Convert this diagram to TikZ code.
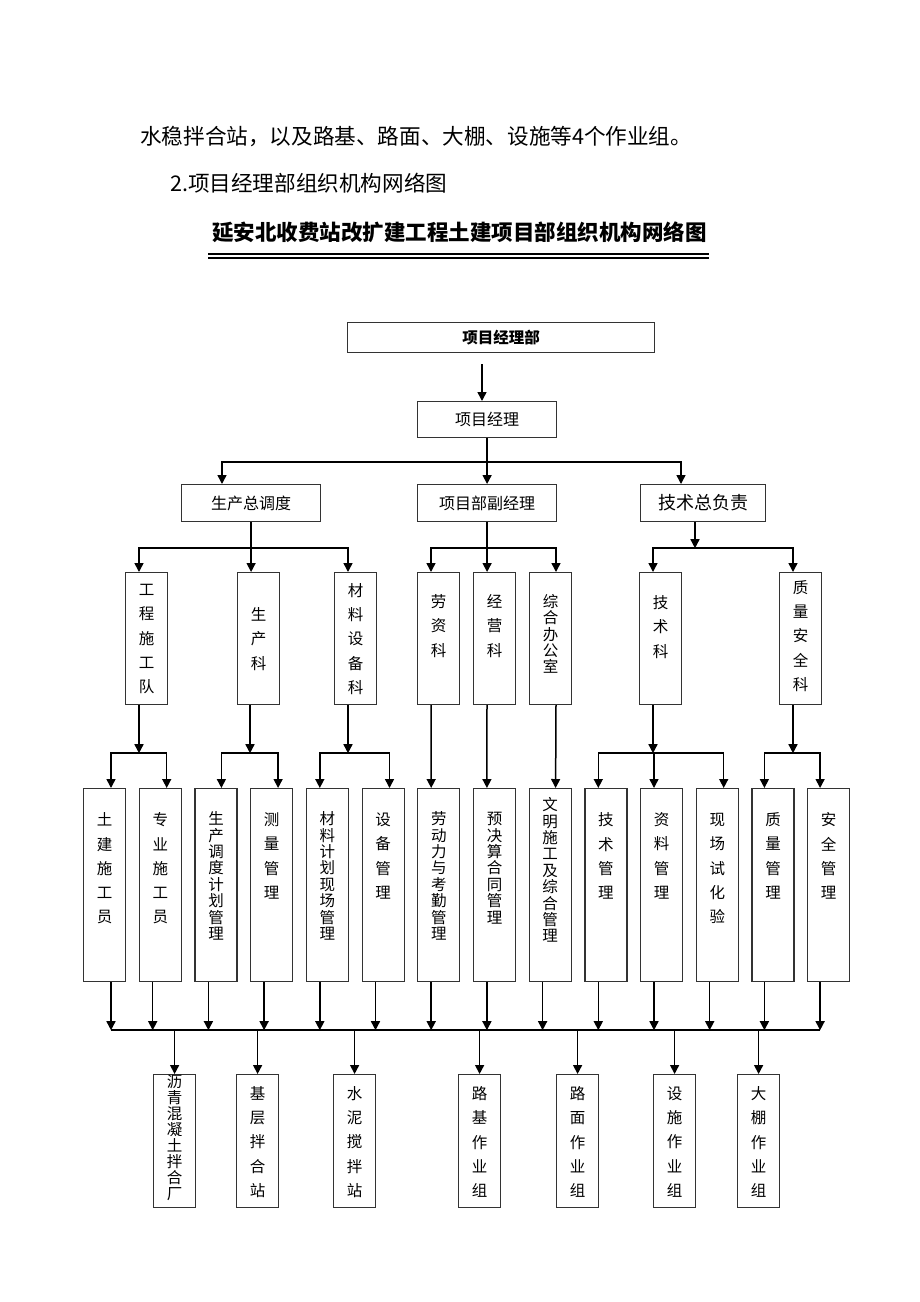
\documentclass[tikz,border=0pt]{standalone}
\usepackage{fontspec}
\setmainfont{Noto Sans CJK SC}
\usetikzlibrary{arrows.meta}

\tikzset{
  hbox/.style={draw=black!80, line width=1.2pt, inner sep=0pt, anchor=north west, font=\fontsize{16}{18}\selectfont},
  vbox/.style={draw=black!80, line width=1.2pt, inner sep=0pt, anchor=north west, minimum width=42pt},
  vtxt/.style={align=center, inner sep=0pt, font=\fontsize{15.5}{24.3}\selectfont},
  vtxtt/.style={align=center, inner sep=0pt, font=\fontsize{15.5}{16.4}\selectfont},
  arr/.style={line width=1.5pt, -{Triangle[length=9pt,width=9pt]}},
  ln/.style={line width=1.5pt},
}

\begin{document}
\begin{tikzpicture}[x=1pt,y=1pt]
  \useasboundingbox (0,0) rectangle (920,-1302);

  % text above the chart
  \node[anchor=west, inner sep=0pt, font=\fontsize{21.6}{24}\selectfont] (intro) at (140,-137) {水稳拌合站，以及路基、路面、大棚、设施等4个作业组。};
  \node[anchor=west, inner sep=0pt, font=\fontsize{21.6}{24}\selectfont] (sect) at (170,-183) {2.项目经理部组织机构网络图};
  \node[inner sep=0pt, font=\fontsize{21.5}{26}\selectfont\bfseries] (title) at (459.5,-232) {延安北收费站改扩建工程土建项目部组织机构网络图};
  \draw[line width=1.5pt] (208,-254) -- (709,-254);
  \draw[line width=1.2pt] (208,-258) -- (709,-258);

  % top levels
  \node[hbox, minimum width=307pt, minimum height=30pt, font=\fontsize{15.5}{18}\selectfont\bfseries] (xmjlb) at (347,-322) {项目经理部};
  \node[hbox, minimum width=139pt, minimum height=36pt] (pm) at (417,-401) {项目经理};
  \node[hbox, minimum width=139pt, minimum height=37pt] (sczdd) at (181,-484) {生产总调度};
  \node[hbox, minimum width=139pt, minimum height=37pt] (fjl) at (417,-484) {项目部副经理};
  \node[hbox, minimum width=125pt, minimum height=37pt, font=\fontsize{18}{20}\selectfont] (jszfz) at (640,-484) {技术总负责};

  \draw[arr] ([xshift=135pt,yshift=-11pt]xmjlb.south west) -- ([xshift=65pt]pm.north west);
  \draw[arr] (pm.south) -- (fjl.north);
  \draw[arr] ([yshift=-24pt]pm.south) -| ([xshift=41pt]sczdd.north west);
  \draw[arr] ([yshift=-24pt]pm.south) -| ([xshift=41pt]jszfz.north west);

  % sections
  \node[vbox, minimum height=132pt] (gcd) at (125,-572) {};
  \node[vtxt] (gcd-t) at ([yshift=-67pt]gcd.north) {工\\程\\施\\工\\队};
  \node[vbox, minimum height=132pt] (scz) at (237,-572) {};
  \node[vtxt] (scz-t) at ([yshift=-67pt]scz.north) {生\\产\\科};
  \node[vbox, minimum height=132pt] (clsb) at (334,-572) {};
  \node[vtxt] (clsb-t) at ([yshift=-67pt]clsb.north) {材\\料\\设\\备\\科};
  \node[vbox, minimum height=132pt] (lz) at (417,-572) {};
  \node[vtxt] (lz-t) at ([yshift=-54pt]lz.north) {劳\\资\\科};
  \node[vbox, minimum height=132pt] (jy) at (473,-572) {};
  \node[vtxt] (jy-t) at ([yshift=-54pt]jy.north) {经\\营\\科};
  \node[vbox, minimum height=132pt] (zh) at (529,-572) {};
  \node[vtxtt] (zh-t) at ([yshift=-62pt]zh.north) {综\\合\\办\\公\\室};
  \node[vbox, minimum height=132pt] (js) at (639,-572) {};
  \node[vtxt] (js-t) at ([yshift=-55pt]js.north) {技\\术\\科};
  \node[vbox, minimum height=132pt] (zlaq) at (779,-572) {};
  \node[vtxt] (zlaq-t) at ([yshift=-64pt]zlaq.north) {质\\量\\安\\全\\科};

  \draw[arr] (sczdd.south) -- (sczdd.south |- scz.north);
  \draw[arr] ([yshift=-26pt]sczdd.south) -| ([xshift=14pt]gcd.north west);
  \draw[arr] ([yshift=-26pt]sczdd.south) -| ([xshift=14pt]clsb.north west);
  \draw[arr] (fjl.south) -- (fjl.south |- jy.north);
  \draw[arr] ([yshift=-26pt]fjl.south) -| ([xshift=14pt]lz.north west);
  \draw[arr] ([yshift=-26pt]fjl.south) -| ([xshift=27pt]zh.north west);
  \draw[arr] ([xshift=55pt]jszfz.south west) -- ++(0,-26);
  \draw[arr] ([xshift=55pt,yshift=-26pt]jszfz.south west) -| ([xshift=14pt]js.north west);
  \draw[arr] ([xshift=55pt,yshift=-26pt]jszfz.south west) -| ([xshift=14pt]zlaq.north west);

  % posts
  \node[vbox, minimum height=193pt] (tj) at (83,-788) {};
  \node[vtxt] (tj-t) at ([yshift=-80.5pt]tj.north) {土\\建\\施\\工\\员};
  \node[vbox, minimum height=193pt] (zy) at (138.7,-788) {};
  \node[vtxt] (zy-t) at ([yshift=-80.5pt]zy.north) {专\\业\\施\\工\\员};
  \node[vbox, minimum height=193pt] (ddjh) at (194.4,-788) {};
  \node[vtxtt] (ddjh-t) at ([yshift=-88pt]ddjh.north) {生\\产\\调\\度\\计\\划\\管\\理};
  \node[vbox, minimum height=193pt] (cl) at (250.1,-788) {};
  \node[vtxt] (cl-t) at ([yshift=-68pt]cl.north) {测\\量\\管\\理};
  \node[vbox, minimum height=193pt] (clxc) at (305.8,-788) {};
  \node[vtxtt] (clxc-t) at ([yshift=-88pt]clxc.north) {材\\料\\计\\划\\现\\场\\管\\理};
  \node[vbox, minimum height=193pt] (sb) at (361.5,-788) {};
  \node[vtxt] (sb-t) at ([yshift=-68pt]sb.north) {设\\备\\管\\理};
  \node[vbox, minimum height=193pt] (ldl) at (417.2,-788) {};
  \node[vtxtt] (ldl-t) at ([yshift=-88pt]ldl.north) {劳\\动\\力\\与\\考\\勤\\管\\理};
  \node[vbox, minimum height=193pt] (yjs) at (472.9,-788) {};
  \node[vtxtt] (yjs-t) at ([yshift=-80pt]yjs.north) {预\\决\\算\\合\\同\\管\\理};
  \node[vbox, minimum height=193pt] (wm) at (528.6,-788) {};
  \node[vtxtt] (wm-t) at ([yshift=-82pt]wm.north) {文\\明\\施\\工\\及\\综\\合\\管\\理};
  \node[vbox, minimum height=193pt] (jsgl) at (584.3,-788) {};
  \node[vtxt] (jsgl-t) at ([yshift=-68pt]jsgl.north) {技\\术\\管\\理};
  \node[vbox, minimum height=193pt] (zl) at (640,-788) {};
  \node[vtxt] (zl-t) at ([yshift=-68pt]zl.north) {资\\料\\管\\理};
  \node[vbox, minimum height=193pt] (xcsy) at (695.7,-788) {};
  \node[vtxt] (xcsy-t) at ([yshift=-80.5pt]xcsy.north) {现\\场\\试\\化\\验};
  \node[vbox, minimum height=193pt] (zlgl) at (751.4,-788) {};
  \node[vtxt] (zlgl-t) at ([yshift=-68pt]zlgl.north) {质\\量\\管\\理};
  \node[vbox, minimum height=193pt] (aqgl) at (807.1,-788) {};
  \node[vtxt] (aqgl-t) at ([yshift=-68pt]aqgl.north) {安\\全\\管\\理};

  \draw[arr] ([xshift=14pt]gcd.south west) -- ++(0,-48);
  \draw[arr] ([xshift=14pt,yshift=-48pt]gcd.south west) -| ([xshift=28pt]tj.north west);
  \draw[arr] ([xshift=14pt,yshift=-48pt]gcd.south west) -| ([xshift=28pt]zy.north west);
  \draw[arr] ([xshift=13pt]scz.south west) -- ++(0,-48);
  \draw[arr] ([xshift=13pt,yshift=-48pt]scz.south west) -| ([xshift=27pt]ddjh.north west);
  \draw[arr] ([xshift=13pt,yshift=-48pt]scz.south west) -| ([xshift=28pt]cl.north west);
  \draw[arr] ([xshift=14pt]clsb.south west) -- ++(0,-48);
  \draw[arr] ([xshift=14pt,yshift=-48pt]clsb.south west) -| ([xshift=14pt]clxc.north west);
  \draw[arr] ([xshift=14pt,yshift=-48pt]clsb.south west) -| ([xshift=28pt]sb.north west);
  \draw[arr] ([xshift=14pt]lz.south west) -- ([xshift=14pt]ldl.north west);
  \draw[arr] ([xshift=14pt]jy.south west) -- ([xshift=14pt]yjs.north west);
  \draw[arr] ([xshift=27pt]zh.south west) -- ([xshift=27pt]wm.north west);
  \draw[arr] ([xshift=14pt]js.south west) -- ++(0,-48);
  \draw[arr] ([xshift=14pt,yshift=-48pt]js.south west) -| ([xshift=14pt]jsgl.north west);
  \draw[arr] ([xshift=14pt,yshift=-48pt]js.south west) -| ([xshift=14pt]zl.north west);
  \draw[arr] ([xshift=14pt,yshift=-48pt]js.south west) -| ([xshift=28pt]xcsy.north west);
  \draw[arr] ([xshift=14pt]zlaq.south west) -- ++(0,-48);
  \draw[arr] ([xshift=14pt,yshift=-48pt]zlaq.south west) -| ([xshift=13pt]zlgl.north west);
  \draw[arr] ([xshift=14pt,yshift=-48pt]zlaq.south west) -| ([xshift=13pt]aqgl.north west);

  % collecting line
  \draw[arr] ([xshift=28pt]tj.south west) -- ++(0,-48);
  \draw[arr] ([xshift=14pt]zy.south west) -- ++(0,-48);
  \draw[arr] ([xshift=14pt]ddjh.south west) -- ++(0,-48);
  \draw[arr] ([xshift=14pt]cl.south west) -- ++(0,-48);
  \draw[arr] ([xshift=14pt]clxc.south west) -- ++(0,-48);
  \draw[arr] ([xshift=14pt]sb.south west) -- ++(0,-48);
  \draw[arr] ([xshift=14pt]ldl.south west) -- ++(0,-48);
  \draw[arr] ([xshift=14pt]yjs.south west) -- ++(0,-48);
  \draw[arr] ([xshift=14pt]wm.south west) -- ++(0,-48);
  \draw[arr] ([xshift=14pt]jsgl.south west) -- ++(0,-48);
  \draw[arr] ([xshift=14pt]zl.south west) -- ++(0,-48);
  \draw[arr] ([xshift=14pt]xcsy.south west) -- ++(0,-48);
  \draw[arr] ([xshift=13pt]zlgl.south west) -- ++(0,-48);
  \draw[arr] ([xshift=13pt]aqgl.south west) -- ++(0,-48);
  \coordinate (bus) at ([xshift=28pt,yshift=-48pt]tj.south west);
  \draw[ln] (bus) -- ([xshift=13pt,yshift=-48pt]aqgl.south west);

  % work groups
  \node[vbox, minimum height=133pt] (lq) at (153,-1074) {};
  \node[vtxtt, font=\fontsize{15.5}{16}\selectfont] (lq-t) at ([yshift=-64pt]lq.north) {沥\\青\\混\\凝\\土\\拌\\合\\厂};
  \node[vbox, minimum height=133pt] (jc) at (236,-1074) {};
  \node[vtxt] (jc-t) at ([yshift=-68pt]jc.north) {基\\层\\拌\\合\\站};
  \node[vbox, minimum height=133pt] (sn) at (333,-1074) {};
  \node[vtxt] (sn-t) at ([yshift=-68pt]sn.north) {水\\泥\\搅\\拌\\站};
  \node[vbox, minimum height=133pt] (lj) at (458,-1074) {};
  \node[vtxt] (lj-t) at ([yshift=-68pt]lj.north) {路\\基\\作\\业\\组};
  \node[vbox, minimum height=133pt] (lm) at (556,-1074) {};
  \node[vtxt] (lm-t) at ([yshift=-68pt]lm.north) {路\\面\\作\\业\\组};
  \node[vbox, minimum height=133pt] (ss) at (653,-1074) {};
  \node[vtxt] (ss-t) at ([yshift=-68pt]ss.north) {设\\施\\作\\业\\组};
  \node[vbox, minimum height=133pt] (dp) at (737,-1074) {};
  \node[vtxt] (dp-t) at ([yshift=-68pt]dp.north) {大\\棚\\作\\业\\组};

  \draw[arr] (lq.north |- bus) -- (lq.north);
  \draw[arr] (jc.north |- bus) -- (jc.north);
  \draw[arr] (sn.north |- bus) -- (sn.north);
  \draw[arr] (lj.north |- bus) -- (lj.north);
  \draw[arr] (lm.north |- bus) -- (lm.north);
  \draw[arr] (ss.north |- bus) -- (ss.north);
  \draw[arr] (dp.north |- bus) -- (dp.north);
\end{tikzpicture}
\end{document}
